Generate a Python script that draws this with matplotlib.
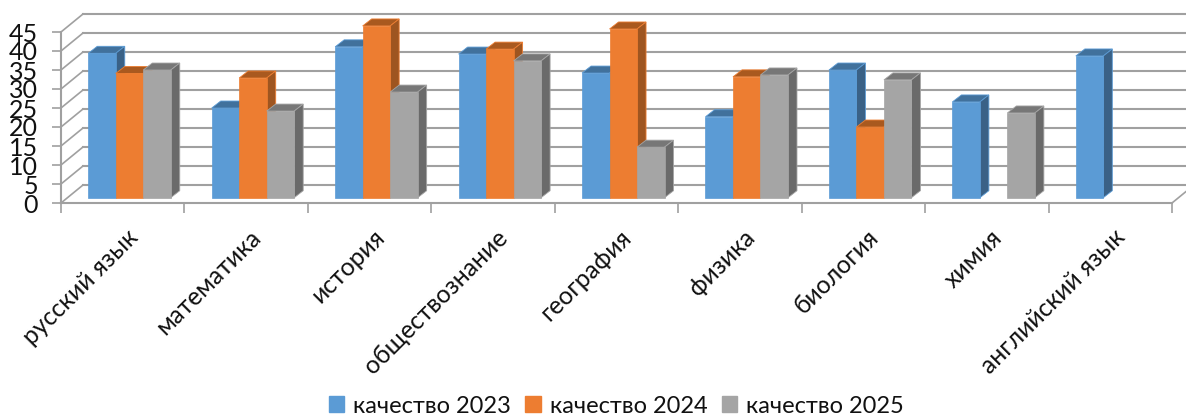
import numpy as np
import matplotlib
matplotlib.use("Agg")
import matplotlib.pyplot as plt
from matplotlib.patches import Patch, Polygon

plt.rcParams['font.family'] = ['Lato', 'Open Sans', 'DejaVu Sans']

categories = ["русский язык", "математика", "история", "обществознание", "география",
              "физика", "биология", "химия", "английский язык"]
q2023 = [38, 23.6, 39.7, 37.8, 32.8, 21.3, 33.6, 25.2, 37.3]
q2024 = [32.7, 31.5, 45.2, 39.1, 44.4, 31.8, 18.6, np.nan, np.nan]
q2025 = [33.6, 22.8, 27.8, 36, 13.3, 32.3, 31, 22.3, np.nan]
series_names = ["качество 2023", "качество 2024", "качество 2025"]

# front, top, side
colors = [("#5B9BD5", "#41719C", "#3A6186"),
          ("#ED7D31", "#A9591F", "#9E5520"),
          ("#A5A5A5", "#777777", "#6A6A6A")]
grid_c = "#A0A0A0"

W, H = 1186, 415
L, R, T, B = 61, 1172, 32, 203
fig = plt.figure(figsize=(W/100, H/100), dpi=100)
ax = fig.add_axes([L/W, 1 - B/H, (R - L)/W, (B - T)/H])
ax.set_xlim(0, 9)
ax.set_ylim(0, 45)

px = 9/(R - L)      # data units per pixel, x
py = 45/(B - T)     # data units per pixel, y
wall_dx, wall_dy = 22*px, 18*py
depth_x, depth_y = 9*px, 7*py
base = 5.3*py
bar_w = 27.5*px
group_c = 0.555

# back wall and left wall
for v in range(0, 50, 5):
    ax.plot([wall_dx, 9.3], [v + wall_dy]*2, color=grid_c, lw=1.5, clip_on=False, zorder=1)
    ax.plot([0, wall_dx], [v, v + wall_dy], color=grid_c, lw=1.2, clip_on=False, zorder=1)
ax.plot([9, 9 + wall_dx], [0, wall_dy], color=grid_c, lw=1.2, clip_on=False, zorder=1)

x = np.arange(len(categories))
for k, vals in enumerate([q2023, q2024, q2025]):
    front, top, side = colors[k]
    z = 3 + k
    left = x + group_c + (k - 1.5)*bar_w
    ok = ~np.isnan(vals)
    ax.bar(left[ok], np.array(vals)[ok], bar_w, bottom=base, align='edge', color=front,
           edgecolor=front, lw=0.5, zorder=z + 0.5, clip_on=False)
    for x0, v in zip(left[ok], np.array(vals)[ok]):
        x1 = x0 + bar_w
        y1 = base + v
        ax.add_patch(Polygon([(x0, y1), (x1, y1), (x1 + depth_x, y1 + depth_y), (x0 + depth_x, y1 + depth_y)],
                             fc=top, ec=front, lw=0.6, zorder=z, clip_on=False))
        ax.add_patch(Polygon([(x1, base), (x1 + depth_x, base + depth_y), (x1 + depth_x, y1 + depth_y), (x1, y1)],
                             fc=side, ec=front, lw=0.6, zorder=z, clip_on=False))

for s in ['top', 'right']:
    ax.spines[s].set_visible(False)
for s in ['left', 'bottom']:
    ax.spines[s].set_color(grid_c)
    ax.spines[s].set_linewidth(1.5)
    ax.spines[s].set_zorder(2)

ax.set_yticks(range(0, 50, 5))
ax.set_xticks(range(0, 10))
ax.set_xticklabels([])
ax.tick_params(axis='x', length=7, width=1.2, color=grid_c)
ax.tick_params(axis='y', length=6.5, width=1.2, color=grid_c, pad=10, labelsize=18, labelcolor="#111111")

for i, name in enumerate(categories):
    ax.annotate(name, xy=(i + 0.5, 0), xytext=(8, -22), textcoords='offset points',
                rotation=45, rotation_mode='anchor', ha='right', va='center',
                fontsize=17.8, color="#111111", annotation_clip=False)

handles = [Patch(fc=c[0], ec=c[0]) for c in colors]
fig.legend(handles, series_names, loc='center', bbox_to_anchor=(616.5/W, 1 - 406/H), ncol=3, frameon=False,
           fontsize=17, handlelength=0.66, handleheight=0.66, handletextpad=0.38,
           columnspacing=0.6, labelcolor="#111111")

fig.savefig("out.png", dpi=100)
